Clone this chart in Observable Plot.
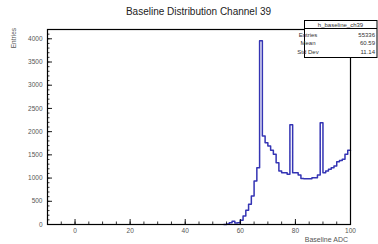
<!DOCTYPE html>
<html><head><meta charset="utf-8">
<script src="https://cdn.jsdelivr.net/npm/d3@7"></script>
<script src="https://cdn.jsdelivr.net/npm/@observablehq/plot@0.6"></script>
<style>body{margin:0;background:#fff} svg{display:block}</style>
</head><body><div id="chart"></div>
<script>
// Histogram: 1-ADC bins, first listed bin starts at 54
const binStart = 54;
const counts = [0, 10, 40, 70, 30, 40, 90, 183, 305, 435, 614, 937, 1223, 3960, 1906, 1762, 1690, 1598, 1512, 1331, 1152, 1116, 1116, 1081, 2150, 1116, 1116, 1066, 990, 987, 987, 987, 1008, 1008, 1066, 2190, 1116, 1150, 1189, 1220, 1260, 1353, 1380, 1404, 1512, 1598];
const yMajor = [0, 500, 1000, 1500, 2000, 2500, 3000, 3500, 4000];
const yMinor = d3.range(0, 4201, 100);
const xMajor = [0, 20, 40, 60, 80, 100];
const xMinor = d3.range(-5, 101, 5);
const titleText = "Baseline Distribution Channel 39";
const xTitle = "Baseline ADC";
const yTitle = "Entries";
const statsName = "h_baseline_ch39";
const statsRows = [["Entries", "55336"], ["Mean", "60.59"], ["Std Dev", "11.14"]];

const points = counts.map((c, i) => ({x: binStart + i, y: c}));
points.push({x: binStart + counts.length, y: counts[counts.length - 1]});

const font = "'Liberation Sans', Arial, Helvetica, sans-serif";
const chart = Plot.plot({
  width: 378, height: 244,
  marginLeft: 47, marginRight: 28, marginTop: 29, marginBottom: 20,
  x: {domain: [-10, 100]},
  y: {domain: [0, 4200]},
  style: {fontFamily: font, background: "#fff", color: "#000"},
  marks: [
    Plot.line(points, {x: "x", y: "y", curve: "step-after", stroke: "#3434b4", strokeWidth: 1.5}),
    Plot.axisY(yMinor, {tickSize: -2.5, tickFormat: () => "", label: null, strokeWidth: 0.8}),
    Plot.axisY(yMajor, {tickSize: -5, tickFormat: () => "", label: null, strokeWidth: 0.9}),
    Plot.axisY(yMajor, {tickSize: 0, tickPadding: 5, fontSize: 6.5, fill: "#555", label: null, tickFormat: d => String(d)}),
    Plot.axisX(xMinor, {tickSize: -2.5, tickFormat: () => "", label: null, strokeWidth: 0.8}),
    Plot.axisX(xMajor, {tickSize: -5, tickFormat: () => "", label: null, strokeWidth: 0.9}),
    Plot.axisX(xMajor, {tickSize: 0, tickPadding: 4, fontSize: 6.5, fill: "#555", label: null, tickFormat: d => String(d)}),
    Plot.frame({stroke: "#000", strokeWidth: 1.2})
  ]
});
document.getElementById("chart").appendChild(chart);

const svg = d3.select(chart);
svg.append("text").attr("x", 198.5).attr("y", 15).attr("text-anchor", "middle")
  .attr("font-family", font).attr("font-size", 10).attr("fill", "#222").text(titleText);
svg.append("text").attr("transform", "translate(16,28) rotate(-90)").attr("text-anchor", "end")
  .attr("font-family", font).attr("font-size", 6.5).attr("fill", "#555").text(yTitle);
svg.append("text").attr("x", 348).attr("y", 242).attr("text-anchor", "end")
  .attr("font-family", font).attr("font-size", 7).attr("fill", "#555").text(xTitle);

const box = svg.append("g");
box.append("rect").attr("x", 304.5).attr("y", 20.5).attr("width", 72.5).attr("height", 37)
  .attr("fill", "#fff").attr("stroke", "#000").attr("stroke-width", 1);
box.append("line").attr("x1", 304.5).attr("x2", 377).attr("y1", 28.5).attr("y2", 28.5)
  .attr("stroke", "#000").attr("stroke-width", 1);
box.append("text").attr("x", 340.5).attr("y", 26.8).attr("text-anchor", "middle")
  .attr("font-family", font).attr("font-size", 6).attr("fill", "#333").text(statsName);
statsRows.forEach(([k, v], i) => {
  const y = 36.5 + i * 8.6;
  box.append("text").attr("x", 308).attr("y", y).attr("font-family", font).attr("font-size", 6)
    .attr("fill", "#333").text(k);
  box.append("text").attr("x", 375).attr("y", y).attr("text-anchor", "end").attr("font-family", font)
    .attr("font-size", 6).attr("fill", "#333").text(v);
});
</script>
</body></html>
